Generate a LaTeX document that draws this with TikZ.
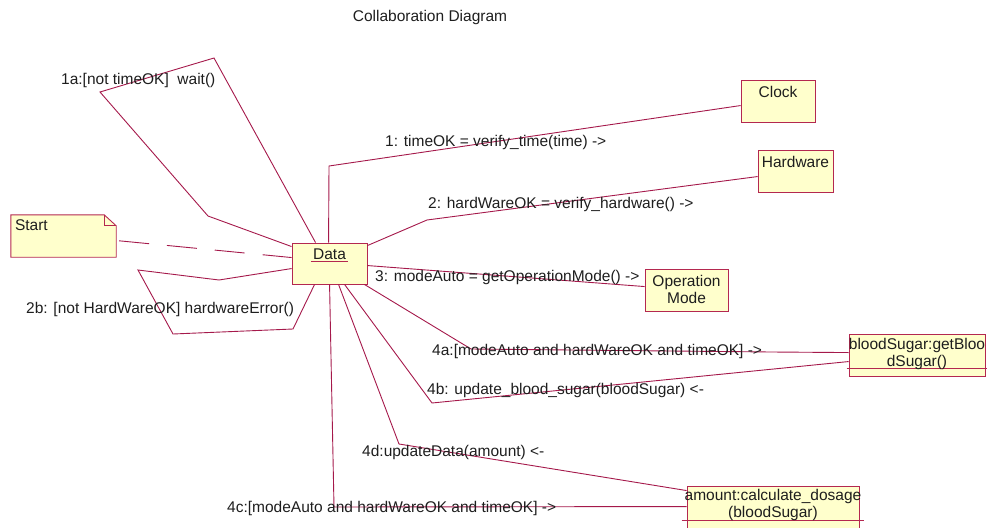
\documentclass[tikz,border=0pt]{standalone}
\usepackage{fontspec}
\setmainfont{Liberation Sans}
\definecolor{lnc}{RGB}{165,25,75}
\definecolor{boxc}{RGB}{180,40,80}
\definecolor{boxfill}{RGB}{255,255,204}
\definecolor{txtc}{RGB}{30,30,30}
\begin{document}
\begin{tikzpicture}[x=1pt,y=-1pt,
  wire/.style={draw=lnc, line width=0.9pt},
  objbox/.style={draw=boxc, fill=boxfill, line width=0.9pt, rectangle, inner sep=0pt},
  sepline/.style={draw=boxc, line width=0.9pt},
  lbl/.style={inner sep=0pt, text=txtc, font=\fontsize{15.5}{16.5}\selectfont}
]
\useasboundingbox (0,0) rectangle (987,527);
\clip (0,0) rectangle (987,527);

% objects
\node[objbox, minimum width=75pt, minimum height=41pt] (data) at (329.5,263.5) {};
\node[objbox, minimum width=74pt, minimum height=42pt] (clock) at (778,101) {};
\node[objbox, minimum width=75pt, minimum height=42pt] (hw) at (795.5,171) {};
\node[objbox, minimum width=83pt, minimum height=42pt] (opm) at (686.5,290) {};
\node[objbox, minimum width=136pt, minimum height=42pt] (bsug) at (917,355) {};
\node[objbox, minimum width=172pt, minimum height=60pt] (amt) at (773,516) {};
\draw[sepline] ([xshift=-2pt,yshift=-35pt]bsug.north west) -- ([xshift=4pt,yshift=-35pt]bsug.north east);
\draw[sepline] ([xshift=-5pt,yshift=-35pt]amt.north west) -- ([xshift=5pt,yshift=-35pt]amt.north east);

% note with folded corner
\node[inner sep=0pt, minimum width=105pt, minimum height=42pt] (note) at (63.5,236) {};
\filldraw[draw=boxc, fill=boxfill, line width=0.9pt]
  (note.north west) -- ([xshift=-12pt]note.north east) -- ([yshift=-11pt]note.north east)
  -- (note.south east) -- (note.south west) -- cycle;
\draw[sepline] ([xshift=-12pt]note.north east) -- ([xshift=-12pt,yshift=-11pt]note.north east)
  -- ([yshift=-11pt]note.north east);

% bend points
\coordinate (a1) at (208,216);
\coordinate (a2) at (100,92);
\coordinate (a3) at (214,58);
\coordinate (c1) at (329,166);
\coordinate (h1) at (427,220);
\coordinate (b1) at (293,329);
\coordinate (b2) at (173,334);
\coordinate (b3) at (138,270);
\coordinate (b4) at (219,280);
\coordinate (q1) at (471,349);
\coordinate (q2) at (771,352);
\coordinate (r1) at (432,403);
\coordinate (s1) at (399,444);
\coordinate (u1) at (334,507);

% links
\draw[wire] ([xshift=24pt]data.north west) -- (a3) -- (a2) -- (a1) -- ([yshift=-4pt]data.north west);
\draw[wire] ([xshift=37pt]data.north west) -- (c1) -- ([yshift=-26pt]clock.north west);
\draw[wire] ([yshift=-3pt]data.north east) -- (h1) -- ([yshift=-27pt]hw.north west);
\draw[wire] ([yshift=-23pt]data.north east) -- ([yshift=-18pt]opm.north west);
\draw[wire, dash pattern=on 30pt off 18pt] ([xshift=3pt,yshift=-26pt]note.north east) -- ([yshift=-15pt]data.north west);
\draw[wire] ([xshift=23pt]data.south west) -- (b1) -- (b2) -- (b3) -- (b4) -- ([yshift=-26pt]data.north west);
\draw[wire] ([xshift=-3pt]data.south east) -- (q1) -- (q2) -- ([yshift=-19pt]bsug.north west);
\draw[wire] ([xshift=53pt]data.south west) -- (r1) -- ([yshift=-28pt]bsug.north west);
\draw[wire] ([xshift=47pt]data.south west) -- (s1) -- ([yshift=-5pt]amt.north west);
\draw[wire] ([xshift=38pt]data.south west) -- (u1) -- ([yshift=-21pt]amt.north west);

% object names
\node[lbl] (datat) at ([yshift=-12pt]data.north) {Data};
\draw[sepline] ([xshift=-2pt,yshift=-1.5pt]datat.south west) -- ([xshift=2pt,yshift=-1.5pt]datat.south east);
\node[lbl] (clockt) at ([yshift=-12pt]clock.north) {Clock};
\node[lbl] (hwt) at ([yshift=-12pt]hw.north) {Hardware};
\node[lbl, align=center] (opmt) at ([yshift=-21pt]opm.north) {Operation\\Mode};
\node[lbl, align=center] (bsugt) at ([yshift=-20.5pt]bsug.north) {bloodSugar:getBloo\\dSugar()};
\node[lbl, align=center] (amtt) at ([yshift=-19.5pt]amt.north) {amount:calculate\_dosage\\(bloodSugar)};
\node[lbl, anchor=west] (startt) at ([xshift=4pt,yshift=-10pt]note.north west) {Start};

% title and messages
\node[lbl] (title) at (430,17) {Collaboration Diagram};
\node[lbl, anchor=west] (m1a) at (61,80) {1a:[not timeOK]\ \ wait()};
\node[lbl, anchor=west] (m1) at (385,142) {1: timeOK = verify\_time(time) ->};
\node[lbl, anchor=west] (m2) at (428,204) {2: hardWareOK = verify\_hardware() ->};
\node[lbl, anchor=west] (m3) at (375,277) {3: modeAuto = getOperationMode() ->};
\node[lbl, anchor=west] (m2b) at (26,309) {2b: [not HardWareOK] hardwareError()};
\node[lbl, anchor=west] (m4a) at (432,351) {4a:[modeAuto and hardWareOK and timeOK] ->};
\node[lbl, anchor=west] (m4b) at (427,390) {4b: update\_blood\_sugar(bloodSugar) <-};
\node[lbl, anchor=west] (m4d) at (362,452) {4d:updateData(amount) <-};
\node[lbl, anchor=west] (m4c) at (227,508) {4c:[modeAuto and hardWareOK and timeOK] ->};
\end{tikzpicture}
\end{document}
